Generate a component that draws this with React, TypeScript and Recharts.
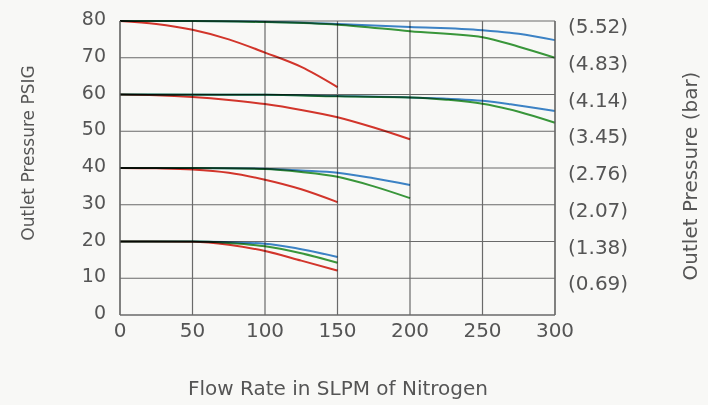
import React from "react";
import {
  LineChart,
  Line,
  XAxis,
  YAxis,
  CartesianGrid,
} from "recharts";

// ─── Data (flow SLPM, outlet PSIG) ────────────────────────────────────────────
const flowTicks = [0, 50, 100, 150, 200, 250, 300];
const psiTicks = [0, 10, 20, 30, 40, 50, 60, 70, 80];
const barTicks = [10, 20, 30, 40, 50, 60, 70, 80];
const barLabels = ["(0.69)", "(1.38)", "(2.07)", "(2.76)", "(3.45)", "(4.14)", "(4.83)", "(5.52)"];

const red80 = [[0, 80], [25, 79.2], [50, 77.6], [75, 75], [100, 71.4], [125, 67.5], [150, 62]];
const green80 = [[0, 80], [50, 80], [100, 79.7], [150, 79], [200, 77.2], [250, 75.6], [275, 73], [300, 70]];
const blue80 = [[0, 80], [50, 80], [100, 79.8], [150, 79.2], [200, 78.4], [250, 77.5], [275, 76.5], [300, 74.8]];

const red60 = [[0, 60], [25, 59.8], [50, 59.3], [75, 58.5], [100, 57.4], [125, 55.8], [150, 53.8], [175, 51], [200, 47.8]];
const green60 = [[0, 60], [100, 59.9], [150, 59.5], [200, 59.2], [225, 58.6], [250, 57.5], [275, 55.3], [300, 52.3]];
const blue60 = [[0, 60], [100, 59.9], [150, 59.6], [200, 59.2], [250, 58.3], [275, 57], [300, 55.5]];

const red40 = [[0, 40], [25, 39.9], [50, 39.6], [75, 38.7], [100, 36.8], [125, 34.2], [150, 30.7]];
const green40 = [[0, 40], [50, 40], [100, 39.7], [125, 38.9], [150, 37.6], [175, 35], [200, 31.8]];
const blue40 = [[0, 40], [50, 40], [100, 39.8], [125, 39.3], [150, 38.7], [175, 37.2], [200, 35.4]];

const red20 = [[0, 20], [50, 19.9], [75, 19.1], [100, 17.4], [125, 14.8], [150, 12.1]];
const green20 = [[0, 20], [50, 20], [75, 19.6], [100, 18.7], [125, 16.8], [150, 14.2]];
const blue20 = [[0, 20], [50, 20], [100, 19.4], [125, 17.9], [150, 15.8]];

const RED = "#d8362c";
const GREEN = "#3a9a3c";
const BLUE = "#3d86cc";

// both y axes share the 0–80 psi scale; the right one only relabels it in bar
const series = [
  { key: "r80", pts: red80, color: RED, axis: "psi" },
  { key: "g80", pts: green80, color: GREEN, axis: "psi" },
  { key: "b80", pts: blue80, color: BLUE, axis: "bar" },
  { key: "r60", pts: red60, color: RED, axis: "psi" },
  { key: "g60", pts: green60, color: GREEN, axis: "psi" },
  { key: "b60", pts: blue60, color: BLUE, axis: "bar" },
  { key: "r40", pts: red40, color: RED, axis: "psi" },
  { key: "g40", pts: green40, color: GREEN, axis: "psi" },
  { key: "b40", pts: blue40, color: BLUE, axis: "bar" },
  { key: "r20", pts: red20, color: RED, axis: "psi" },
  { key: "g20", pts: green20, color: GREEN, axis: "psi" },
  { key: "b20", pts: blue20, color: BLUE, axis: "bar" },
];

const FONT = "'DejaVu Sans', sans-serif";
const TEXT = "#555";
const GRID = "#6a6a6a";

// ─── Ticks ────────────────────────────────────────────────────────────────────
function LeftTick({ x, y, payload }: any) {
  return (
    <text x={x} y={y} dy={4} textAnchor="end" fontSize={19} fill={TEXT} fontFamily={FONT}>
      {payload.value}
    </text>
  );
}

function RightTick({ x, y, payload }: any) {
  const label = barLabels[barTicks.indexOf(Number(payload.value))] ?? "";
  return (
    <text x={x} y={y} dy={12} textAnchor="start" fontSize={20} fill={TEXT} fontFamily={FONT}>
      {label}
    </text>
  );
}

function BottomTick({ x, y, payload }: any) {
  return (
    <text x={x} y={y} dy={22} textAnchor="middle" fontSize={20} fill={TEXT} fontFamily={FONT}>
      {payload.value}
    </text>
  );
}

export default function App() {
  return (
    <div
      style={{
        position: "absolute",
        left: 0,
        top: 0,
        width: 708,
        height: 405,
        background: "#f8f8f6",
        fontFamily: FONT,
      }}
    >
      <LineChart
        width={708}
        height={405}
        margin={{ top: 21, right: 63, left: 80, bottom: 60 }}
      >
        <CartesianGrid stroke={GRID} strokeWidth={1.2} yAxisId="psi" />
        <XAxis
          type="number"
          dataKey="flow"
          domain={[0, 300]}
          ticks={flowTicks}
          height={30}
          axisLine={{ stroke: GRID, strokeWidth: 1.2 }}
          tickLine={false}
          tickSize={0}
          tickMargin={0}
          tick={<BottomTick />}
          allowDuplicatedCategory={false}
        />
        <YAxis
          yAxisId="psi"
          type="number"
          domain={[0, 80]}
          ticks={psiTicks}
          width={40}
          axisLine={{ stroke: GRID, strokeWidth: 1.2 }}
          tickLine={false}
          tickSize={0}
          tickMargin={14}
          tick={<LeftTick />}
        />
        <YAxis
          yAxisId="bar"
          orientation="right"
          type="number"
          domain={[0, 80]}
          ticks={barTicks}
          width={90}
          axisLine={{ stroke: GRID, strokeWidth: 1.2 }}
          tickLine={false}
          tickSize={0}
          tickMargin={13}
          tick={<RightTick />}
        />
        {series.map((s) => (
          <Line
            key={s.key}
            yAxisId={s.axis}
            data={s.pts.map(([flow, psi]) => ({ flow, psi }))}
            dataKey="psi"
            type="monotone"
            stroke={s.color}
            strokeWidth={2}
            dot={false}
            activeDot={false}
            isAnimationActive={false}
            style={{ mixBlendMode: "multiply" }}
          />
        ))}
      </LineChart>

      <div
        style={{
          position: "absolute",
          left: 28,
          top: 153,
          transform: "translate(-50%, -50%) rotate(-90deg)",
          whiteSpace: "nowrap",
          fontSize: 17,
          color: TEXT,
        }}
      >
        Outlet Pressure PSIG
      </div>
      <div
        style={{
          position: "absolute",
          left: 690,
          top: 176,
          transform: "translate(-50%, -50%) rotate(-90deg)",
          whiteSpace: "nowrap",
          fontSize: 20,
          color: TEXT,
        }}
      >
        Outlet Pressure (bar)
      </div>
      <div
        style={{
          position: "absolute",
          left: 338,
          top: 388,
          transform: "translate(-50%, -50%)",
          whiteSpace: "nowrap",
          fontSize: 20,
          color: TEXT,
        }}
      >
        Flow Rate in SLPM of Nitrogen
      </div>
    </div>
  );
}
